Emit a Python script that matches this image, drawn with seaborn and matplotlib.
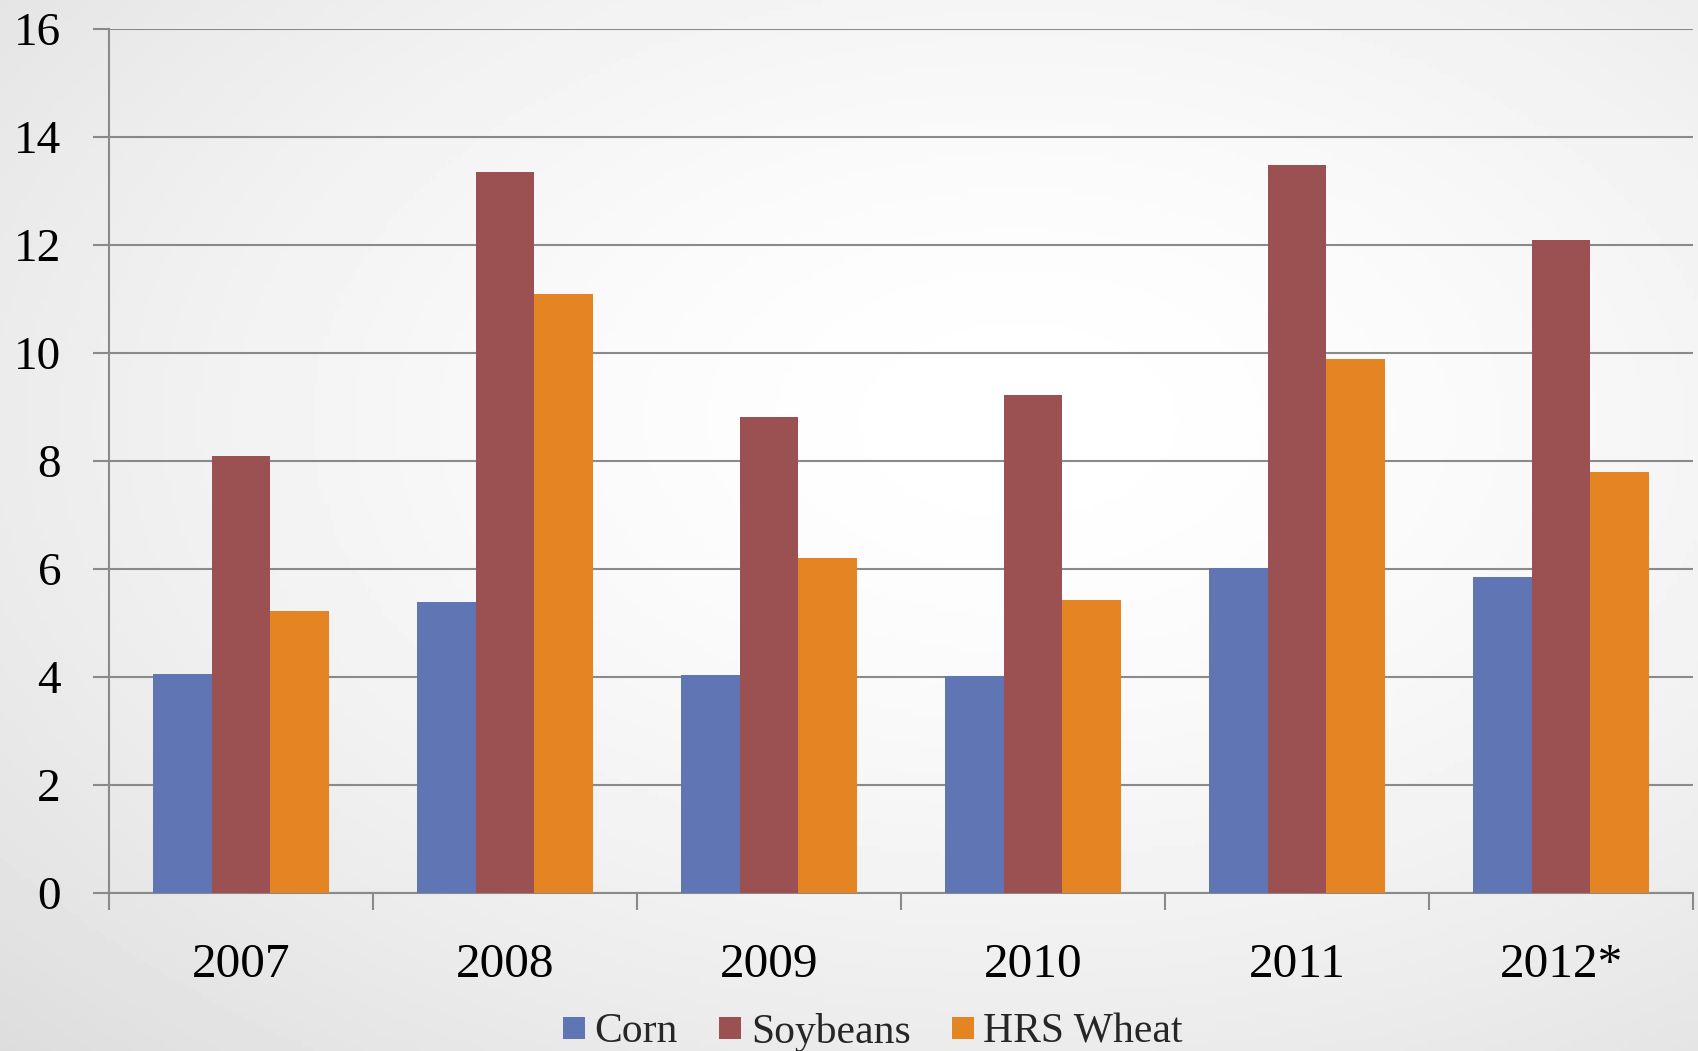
import numpy as np
import pandas as pd
import matplotlib
matplotlib.use("Agg")
import matplotlib.pyplot as plt
from matplotlib.lines import Line2D
import seaborn as sns

# Data
years = ["2007", "2008", "2009", "2010", "2011", "2012*"]
crops = ["Corn", "Soybeans", "HRS Wheat"]
corn = [4.06, 5.39, 4.04, 4.01, 6.01, 5.85]
soybeans = [8.09, 13.36, 8.81, 9.23, 13.49, 12.09]
hrs_wheat = [5.23, 11.10, 6.20, 5.43, 9.88, 7.80]
colors = ["#6076B4", "#9B5052", "#E58423"]

df = pd.DataFrame({
    "year": years * 3,
    "crop": [c for c in crops for _ in years],
    "value": corn + soybeans + hrs_wheat,
})

sns.set_theme(style="white")
plt.rcParams["font.family"] = ["Liberation Serif", "DejaVu Serif"]

W, H = 1698, 1051
fig = plt.figure(figsize=(W / 100, H / 100), dpi=100)

# soft radial backdrop
bg = fig.add_axes([0, 0, 1, 1], zorder=-10)
yy, xx = np.mgrid[0:1:200j, 0:1:320j]
r = np.sqrt(((xx - 0.6) / 0.75) ** 2 + ((yy - 0.4) / 0.75) ** 2)
shade = 1.0 - 0.11 * np.clip(r, 0, 1.3) ** 1.6
bg.imshow(shade, cmap="gray", vmin=0, vmax=1, aspect="auto",
          extent=[0, 1, 0, 1], origin="upper")
bg.axis("off")

L, R = 109 / W, 1693 / W
B, T = 1 - 893 / H, 1 - 29 / H
ax = fig.add_axes([L, B, R - L, T - B])
ax.patch.set_alpha(0)

sns.barplot(data=df, x="year", y="value", hue="crop", hue_order=crops,
            palette=colors, saturation=1, width=2 / 3, linewidth=0,
            legend=False, ax=ax, zorder=3)

grid_c = "#8a8a8a"
ax.set_ylim(0, 16)
ax.set_xlim(-0.5, len(years) - 0.5)
ax.set_yticks(np.arange(0, 17, 2))
ax.yaxis.grid(True, color=grid_c, linewidth=1.5, zorder=0)
ax.set_axisbelow(True)
for s in ["top", "right"]:
    ax.spines[s].set_visible(False)
for s in ["left", "bottom"]:
    ax.spines[s].set_color(grid_c)
    ax.spines[s].set_linewidth(1.5)

ax.set_xlabel("")
ax.set_ylabel("")
ax.tick_params(axis="y", which="major", length=11.5, width=1.5, color=grid_c,
               direction="out", labelsize=34, pad=23, labelcolor="black", left=True)
ax.set_xticks(np.arange(-0.5, len(years), 1.0), minor=True)
ax.tick_params(axis="x", which="minor", length=12, width=1.5, color=grid_c,
               direction="out", bottom=True)
ax.tick_params(axis="x", which="major", length=0, labelsize=35.5, pad=36,
               labelcolor="black")

handles = [Line2D([0], [0], marker="s", linestyle="none", markersize=16.5,
                  markerfacecolor=c, markeredgewidth=0) for c in colors]
fig.legend(handles, crops, loc="center", bbox_to_anchor=(871 / W, 1 - 1032 / H),
           ncol=3, frameon=False, fontsize=30, handletextpad=0.15,
           columnspacing=0.9, handlelength=0.7, borderpad=0)

fig.savefig("out.png", dpi=100)
